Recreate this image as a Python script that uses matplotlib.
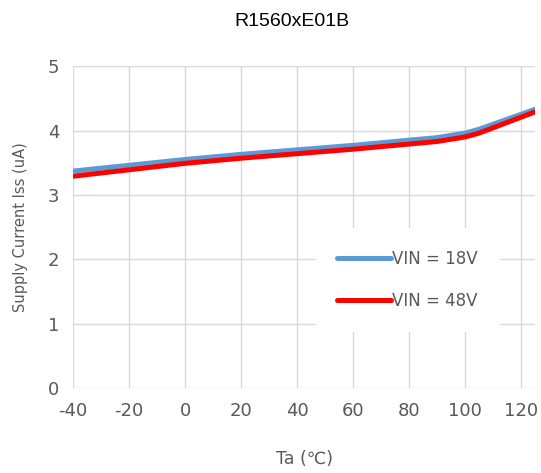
import numpy as np
import matplotlib
matplotlib.use('Agg')
import matplotlib.pyplot as plt

plt.rcParams['axes.unicode_minus'] = False

# temperature (deg C) and supply current (uA)
ta = [-40, -20, 0, 20, 40, 60, 80, 90, 100, 105, 125]
iss_18v = [3.37, 3.46, 3.55, 3.63, 3.70, 3.77, 3.85, 3.89, 3.96, 4.02, 4.33]
iss_48v = [3.29, 3.39, 3.49, 3.57, 3.64, 3.71, 3.79, 3.83, 3.90, 3.96, 4.29]
labels = ['VIN = 18V', 'VIN = 48V']
xticks = [-40, -20, 0, 20, 40, 60, 80, 100, 120]
yticks = [0, 1, 2, 3, 4, 5]

gray = '#595959'
fig = plt.figure(figsize=(5.41, 4.73), dpi=100)
ax = fig.add_axes([0.135, 0.18, 0.854, 0.68])

ax.plot(ta, iss_18v, color='#5b9bd5', lw=3.6, label=labels[0], solid_capstyle='round')
ax.plot(ta, iss_48v, color='#ff0000', lw=3.6, label=labels[1], solid_capstyle='round')

ax.set_xlim(-40, 125)
ax.set_ylim(0, 5)
ax.set_xticks(xticks)
ax.set_yticks(yticks)
ax.grid(True, color='#d9d9d9', lw=1)
ax.set_axisbelow(True)
for s in ax.spines.values():
    s.set_visible(False)
ax.tick_params(length=0, labelsize=13, labelcolor=gray, pad=10)

ax.set_xlabel('Ta (℃)', fontsize=12.5, color=gray, labelpad=22)
ax.set_ylabel('Supply Current Iss (uA)', fontsize=10.5, color=gray, labelpad=14)
fig.text(0.54, 0.955, 'R1560xE01B', ha='center', va='center', fontsize=14,
         family='Liberation Sans')

leg = ax.legend(loc='center left', bbox_to_anchor=(0.507, 0.335), frameon=True,
                fontsize=12, handlelength=3.2, labelspacing=1.45, borderpad=1.3,
                handletextpad=0.1, fancybox=False, edgecolor='white', framealpha=1)
leg.get_frame().set_linewidth(0)
for t in leg.get_texts():
    t.set_color(gray)

fig.savefig('out.png', dpi=100)
